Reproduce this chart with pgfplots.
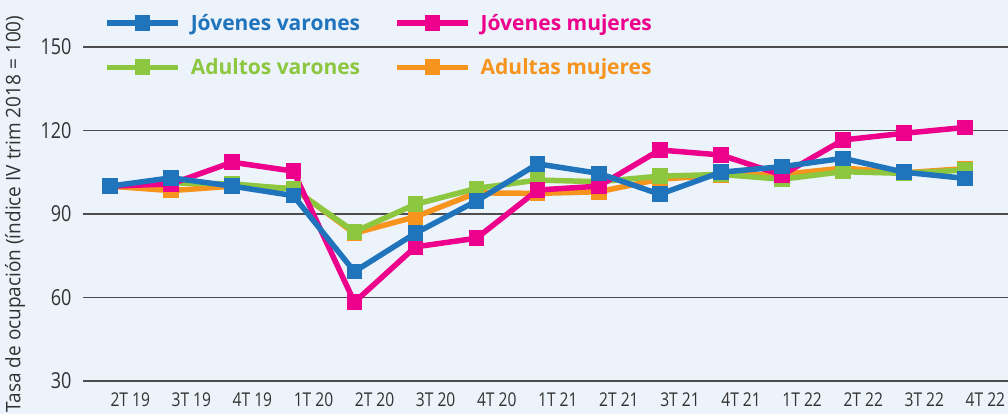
\documentclass[border=0pt]{standalone}
\usepackage{fontspec}
\setmainfont{Open Sans}
\newfontfamily\condfont{Open Sans}[FakeStretch=0.82]
\newfontfamily\labfont{Open Sans}[FakeStretch=0.95]
\usepackage{pgfplots}
\usepackage{pgfplotstable}
\pgfplotsset{compat=1.18}
\usetikzlibrary{backgrounds}
\definecolor{bg}{HTML}{ECF3FB}
\definecolor{cJV}{HTML}{1F74BC}
\definecolor{cJM}{HTML}{EC008C}
\definecolor{cAV}{HTML}{8DC63F}
\definecolor{cAM}{HTML}{F7941D}
\definecolor{gridc}{HTML}{4D4D4F}
\definecolor{txt}{HTML}{333333}

\pgfplotstableread{
x JV JM AV AM
0 100 100 100 100
1 103 100.8 101.2 98.4
2 100 108.6 100.8 100
3 96.6 105.4 99 99.2
4 69.3 58.3 83.6 83.1
5 83.1 78.2 93.5 89
6 94.7 81.3 99.2 97.6
7 108 98.6 102.2 97.4
8 104.6 100 101.6 98
9 97.1 113 103.6 102.5
10 105 111.2 104.2 104
11 107 104 102.5 104.2
12 110 116.6 105.2 106.5
13 105 119 104.6 104.8
14 102.8 121.1 105.8 106.3
}\data

\begin{document}
\begin{tikzpicture}
\begin{axis}[
  scale only axis, width=925pt, height=334pt,
  xmin=-0.443, xmax=14.70, ymin=30, ymax=150,
  ytick={30,60,90,120,150},
  xtick={0.33,1.33,2.33,3.33,4.33,5.33,6.33,7.33,8.33,9.33,10.33,11.33,12.33,13.33,14.33},
  xticklabels={2T 19,3T 19,4T 19,1T 20,2T 20,3T 20,4T 20,1T 21,2T 21,3T 21,4T 21,1T 22,2T 22,3T 22,4T 22},
  axis line style={draw=none},
  major tick length=0pt,
  ymajorgrids, major grid style={gridc, line width=1.5pt},
  clip=false,
  /pgf/number format/assume math mode=true,
  yticklabel style={font=\condfont\fontsize{22}{22}\selectfont, text=txt, anchor=east, xshift=-8pt},
  xticklabel style={font=\condfont\fontsize{19}{19}\selectfont, text=txt, anchor=north, yshift=-8pt},
  ylabel={Tasa de ocupación (índice IV trim 2018 = 100)},
  ylabel style={font=\labfont\fontsize{20}{20}\selectfont, text=txt, at={(axis description cs:-0.0735,0.5)}, anchor=center},
  every axis plot/.append style={line width=5.5pt, line join=round, mark=square*, mark size=7.3pt, mark options={solid, line width=0pt}},
  legend columns=2,
  legend cell align=left,
  legend image code/.code={\draw[mark repeat=2,mark phase=2,#1] plot coordinates {(0pt,0pt) (35.5pt,0pt) (71pt,0pt)};},
  legend style={draw=none, fill=none, inner sep=0pt, at={(axis description cs:0.0228,1.006)}, anchor=west,
    font=\bfseries\fontsize{21}{21}\selectfont, row sep=23pt,
    /tikz/every odd column/.append style={column sep=8pt},
    /tikz/every even column/.append style={column sep=32pt}},
]
\addplot[color=cAM, forget plot] table[x=x,y=AM]{\data};
\addplot[color=cAV, forget plot] table[x=x,y=AV]{\data};
\addplot[color=cJM, forget plot] table[x=x,y=JM]{\data};
\addplot[color=cJV, forget plot] table[x=x,y=JV]{\data};
\addlegendimage{color=cJV}
\addlegendentry{\textcolor{cJV}{Jóvenes varones}}
\addlegendimage{color=cJM}
\addlegendentry{\textcolor{cJM}{Jóvenes mujeres}}
\addlegendimage{color=cAV}
\addlegendentry{\textcolor{cAV}{Adultos varones}}
\addlegendimage{color=cAM}
\addlegendentry{\textcolor{cAM}{Adultas mujeres}}
\coordinate (BL) at (rel axis cs:-0.08973,-0.0988);
\coordinate (TR) at (rel axis cs:1,1.1407);
\end{axis}
\pgfresetboundingbox
\useasboundingbox (BL) rectangle (TR);
\begin{pgfonlayer}{background}
\fill[bg] (BL) rectangle (TR);
\end{pgfonlayer}
\end{tikzpicture}
\end{document}
